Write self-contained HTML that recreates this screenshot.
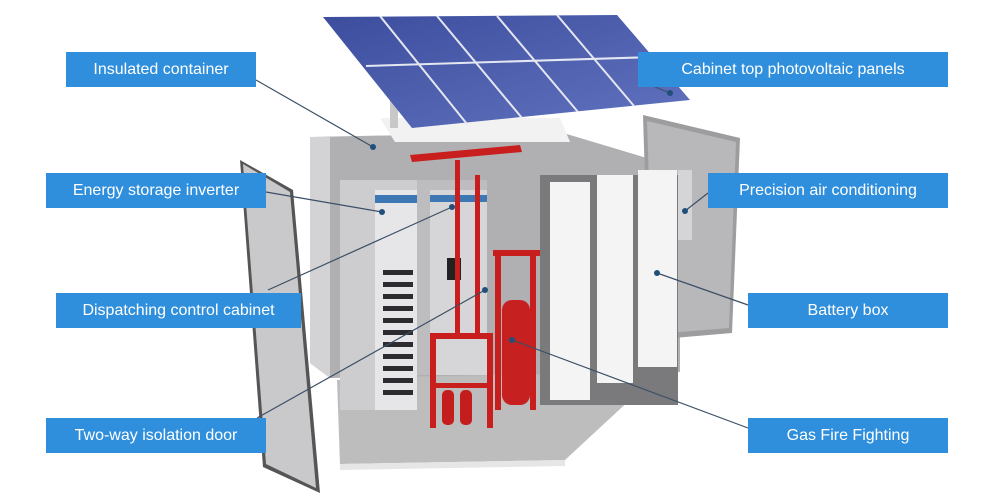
<!DOCTYPE html><html><head><meta charset="utf-8"><style>
body{margin:0;width:1000px;height:500px;background:#fff;overflow:hidden;position:relative;font-family:"Liberation Sans",sans-serif}
.b{position:absolute;background:#2f8fdc;color:#fff;font-size:16px;display:flex;align-items:center;justify-content:center;height:35px}
svg{position:absolute;left:0;top:0}
</style></head><body>
<svg width="1000" height="500">
<defs><linearGradient id="pv" x1="0" y1="0" x2="1" y2="1"><stop offset="0" stop-color="#3d4d9e"/><stop offset="1" stop-color="#6173bf"/></linearGradient></defs>
<polygon points="337,380 673,360 565,460 340,464" fill="#bdbdbd"/>
<polygon points="340,464 565,460 565,466 340,470" fill="#e6e6e6"/>
<polygon points="310,137 560,132 680,168 680,372 330,378 310,363" fill="#b0b0b2"/>
<polygon points="310,137 330,137 330,378 310,363" fill="#d3d3d5"/>
<polygon points="380,118 560,118 570,142 395,142" fill="#f2f2f2"/>
<rect x="390" y="100" width="8" height="28" fill="#c8c8c8"/>
<polygon points="323,17 617,15 690,100 412,128" fill="url(#pv)"/>
<g stroke="#e4e7f2" stroke-width="2" fill="none">
<line x1="366" y1="66" x2="654" y2="57"/>
<line x1="380" y1="16" x2="467" y2="124"/><line x1="437" y1="16" x2="522" y2="118"/><line x1="497" y1="16" x2="578" y2="112"/><line x1="557" y1="15" x2="634" y2="106"/>
</g>
<polygon points="643,115 740,138 732,333 650,340" fill="#9d9d9f"/>
<polygon points="647,121 736,142 729,328 654,334" fill="#b8b8ba"/>
<rect x="678" y="170" width="14" height="70" fill="#d5d5d7"/>
<polygon points="240,160 293,190 320,493 263,467" fill="#555"/>
<polygon points="243,164 290,192 316,488 266,464" fill="#c9c9cb"/>
<rect x="340" y="180" width="77" height="230" fill="#cdcdcf"/>
<rect x="375" y="190" width="42" height="220" fill="#e6e6e8"/>
<rect x="375" y="195" width="42" height="8" fill="#3d78b4"/>
<g fill="#2c2c30"><rect x="383" y="270" width="30" height="5"/><rect x="383" y="282" width="30" height="5"/><rect x="383" y="294" width="30" height="5"/><rect x="383" y="306" width="30" height="5"/><rect x="383" y="318" width="30" height="5"/><rect x="383" y="330" width="30" height="5"/><rect x="383" y="342" width="30" height="5"/><rect x="383" y="354" width="30" height="5"/><rect x="383" y="366" width="30" height="5"/><rect x="383" y="378" width="30" height="5"/><rect x="383" y="390" width="30" height="5"/></g>
<rect x="417" y="180" width="70" height="195" fill="#bdbdbf"/>
<rect x="430" y="190" width="57" height="185" fill="#d6d6d8"/>
<rect x="430" y="195" width="57" height="7" fill="#3d78b4"/>
<rect x="447" y="258" width="14" height="22" fill="#222"/>
<rect x="455" y="160" width="5" height="175" fill="#c81e1e"/>
<rect x="475" y="175" width="5" height="160" fill="#c81e1e"/>
<polygon points="410,155 520,145 522,152 412,162" fill="#c81e1e"/>
<rect x="493" y="250" width="47" height="6" fill="#c81e1e"/>
<rect x="495" y="250" width="6" height="160" fill="#c81e1e"/>
<rect x="530" y="250" width="6" height="160" fill="#c81e1e"/>
<rect x="502" y="300" width="28" height="105" rx="10" fill="#c72020"/>
<rect x="430" y="333" width="63" height="6" fill="#c81e1e"/>
<rect x="430" y="333" width="6" height="95" fill="#c81e1e"/>
<rect x="487" y="333" width="6" height="95" fill="#c81e1e"/>
<rect x="436" y="383" width="51" height="5" fill="#c81e1e"/>
<rect x="442" y="390" width="12" height="35" rx="5" fill="#c41d1d"/><rect x="460" y="390" width="12" height="35" rx="5" fill="#c41d1d"/>
<rect x="540" y="175" width="138" height="230" fill="#7a7a7d"/>
<rect x="550" y="182" width="40" height="218" fill="#f4f4f4"/>
<rect x="597" y="175" width="36" height="208" fill="#f4f4f4"/>
<rect x="638" y="170" width="39" height="197" fill="#f4f4f4"/>
<g stroke="#3d4f66" stroke-width="1.2" fill="none">
<line x1="256" y1="80" x2="373" y2="147"/>
<line x1="266" y1="192" x2="382" y2="212"/>
<line x1="268" y1="290" x2="452" y2="207"/>
<line x1="257" y1="418" x2="485" y2="290"/>
<line x1="638" y1="80" x2="670" y2="93"/>
<line x1="708" y1="193" x2="685" y2="211"/>
<line x1="748" y1="305" x2="657" y2="273"/>
<line x1="748" y1="428" x2="512" y2="340"/>
</g>
<g fill="#1f4f7a"><circle cx="373" cy="147" r="3"/><circle cx="382" cy="212" r="3"/><circle cx="452" cy="207" r="3"/><circle cx="485" cy="290" r="3"/><circle cx="670" cy="93" r="3"/><circle cx="685" cy="211" r="3"/><circle cx="657" cy="273" r="3"/><circle cx="512" cy="340" r="3"/></g>
</svg>
<div class="b" style="left:66px;top:52px;width:190px">Insulated container</div>
<div class="b" style="left:46px;top:173px;width:220px">Energy storage inverter</div>
<div class="b" style="left:56px;top:293px;width:245px">Dispatching control cabinet</div>
<div class="b" style="left:46px;top:418px;width:220px">Two-way isolation door</div>
<div class="b" style="left:638px;top:52px;width:310px">Cabinet top photovoltaic panels</div>
<div class="b" style="left:708px;top:173px;width:240px">Precision air conditioning</div>
<div class="b" style="left:748px;top:293px;width:200px">Battery box</div>
<div class="b" style="left:748px;top:418px;width:200px">Gas Fire Fighting</div>
</body></html>
